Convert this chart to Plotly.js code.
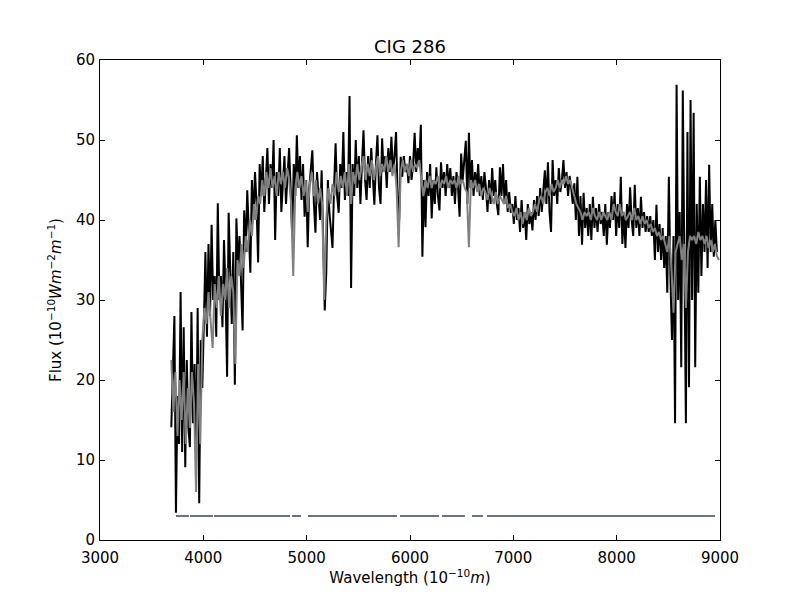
<!DOCTYPE html>
<html>
<head>
<meta charset="utf-8">
<script src="https://cdn.plot.ly/plotly-3.0.1.min.js"></script>
<style>html,body{margin:0;padding:0;background:#fff;}#chart{width:800px;height:600px;}</style>
</head>
<body>
<div id="chart"></div>
<script>
// Observed spectrum (black): first wavelength and sampling step (Angstrom)
const obsStart = 3690;
const obsStep = 15;
const obsFlux = [
 14.1,20,28,3.4,18,12,31,11,26.6,9.1,
 22.5,14,11.6,28.5,14.6,22,10,29,4.6,25,
 19,27,36,25.4,37,28,39.4,30,33,25.4,
 42.1,30,33,26.6,37.5,31,20.4,40.9,32,27,
 36,19.4,40.2,34,38,31,26.2,41.2,36,43.7,
 38,33.4,45,40,46,42,34.7,47,43,48,
 41,46,49,42,47,44,50,37.5,46,43,
 49,41,45,48,42,46,49,44,38,47,
 43,50.6,44,48,42.5,47,40.4,45,36.6,44,
 46,48.7,42,38.4,46,43,40,46.2,38,28.7,
 33.5,45,41,38.4,36.5,44,49.6,43,40.9,47,
 44,51,42.5,46,43,55.5,31.5,47,43,50,
 44,48,42,47,51.2,45,42.5,48,44,49,
 46,41.9,47,50.6,44,42,50.2,46,48,44,
 49,46,50.4,45.9,48,51,43,40,47.9,45.4,
 48,46,47,44.6,48,45,47,50.9,46,49,
 47,51.9,35.4,45,39.1,46,43,47,40.2,45,
 42,46.6,43,41.2,47.2,44,46,43,47,44,
 46.5,43,45.5,42,46,44,40.4,48.3,45,47,
 49.9,42,50.9,44,47.5,43,46,44,47,43,
 45.5,42.5,46,44,41,45,42,46.5,43,45,
 42,40.6,46.6,43,47,42,45,41,43.5,40.9,
 42,39.5,43,40,41.5,38.5,42.5,39,41,37.5,
 42,39.5,41,38.7,42.5,40,43,40.5,44,41,
 43.5,46.2,42,47.2,41,38.5,47.5,43,45,42,
 46.5,43.5,45,47.5,44,46,43,45.5,44,42,
 44.6,40,45.4,38,43,36.9,43.4,39,41.5,38,
 42,37.5,42.9,39,41.5,38.5,42,39.5,41,38,
 42,36.9,41,39,43,40,43.5,38,42,39,
 45.4,37,41,36.5,42,39,44.1,40,38,44.4,
 39,41.5,38,42.9,39,41,38.5,40.5,38.5,40.5,
 38,40,35,41.9,36,39.5,35,39,34,38,
 30.9,45.4,33,25,38,14.6,56.9,30,41,21.6,
 56.2,33,14.6,51,19.1,55,30,53.4,21.6,42,
 30.9,45.4,33,42,36,45,34,46.9,36,42,
 35.4,40,36
];

// Model spectrum (gray)
const modelStart = 3690;
const modelStep = 20;
const modelFlux = [
 22.5,16,21,13,20,15,21,12,19,14,
 21,17,6,22,12,25,29,27,31,28,
 24,32,29,33,28,32,30,34,29,33,
 31,22,35,33,37,34,38,36,40,38,
 42,40,43,42,45,43,46,44,46.5,44,
 45.5,43,46,44.5,46,44,46.5,45,42,33,
 44,46,44,45.5,43,45,41,44.5,46,43,
 45,42,44,42,30,40,44,42,44.5,43,
 46,43.5,45.5,44,46,43,47,42,46,44.5,
 47,45,46.5,48,45,47,45.5,47.5,45,46.5,
 48,45.5,47,46,48,46,47.5,45.5,47,44,
 36.6,46,47.5,46,47,45.5,47.5,46,47,46.5,
 47.5,45,43,45,44,45.5,44,45,44.5,45.5,
 44,45,44.5,45.5,44,45,44.5,45,44,45.5,
 44.5,45,44,43.5,36.6,45,44,45,43.5,44.5,
 43,44,43.5,42.5,44,43,42,43.5,42,43,
 42.5,42,43,41.5,42,41,40.5,41.5,40,41,
 39.5,41,40,41.5,40.5,41,42,41,42.5,43,
 42,43.5,44,43,44.5,43.5,44,45,44,45,
 44.5,45.5,44.5,45,44,43,42,41.5,41,40,
 41,40.5,41,40,41.5,40.5,40,41,40,41,
 40.5,40,41,40,42,41,40.5,42,40.5,41,
 40,40.5,41,40,41.5,40,40.5,39.5,40.5,39.5,
 40,39,39.5,38.5,39,38,38.5,37.5,38,37,
 36,38,34,28.4,36,37,38,35,37,29,
 36,38,37.5,38,37,38.5,37.5,38,37,38,
 36.5,37.5,36,37,35.5,35
];

// Mask (good-pixel) segments drawn at a constant level
const maskLevel = 3;
const maskStarts = [3735,3871,4103,4858,5013,5903,6310,6600,6745];
const maskEnds   = [3861,4094,4839,4945,5874,6281,6532,6706,8952];

const xTicks = [3000,4000,5000,6000,7000,8000,9000];
const yTicks = [0,10,20,30,40,50,60];

const maskX = [], maskY = [];
for (let i = 0; i < maskStarts.length; i++) {
  maskX.push(maskStarts[i], maskEnds[i], null);
  maskY.push(maskLevel, maskLevel, null);
}

const traces = [
  {type:'scatter', mode:'lines', x0: obsStart, dx: obsStep, y: obsFlux,
   line:{color:'#000000', width:2}, hoverinfo:'skip'},
  {type:'scatter', mode:'lines', x0: modelStart, dx: modelStep, y: modelFlux,
   line:{color:'#808080', width:2}, hoverinfo:'skip'},
  {type:'scatter', mode:'lines', x: maskX, y: maskY, connectgaps:false,
   line:{color:'#66767e', width:2}, hoverinfo:'skip'}
];

const axisCommon = {
  showgrid:false, zeroline:false, showline:true, linecolor:'#000', linewidth:1,
  mirror:'allticks', ticks:'inside', ticklen:5, tickwidth:1, tickcolor:'#000',
  tickfont:{family:'DejaVu Sans', size:15, color:'#000'}
};

const layout = {
  width:800, height:600,
  paper_bgcolor:'#fff', plot_bgcolor:'#fff',
  margin:{l:100, r:80, t:60, b:60, pad:0},
  showlegend:false,
  font:{family:'DejaVu Sans', color:'#000'},
  title:{text:'CIG 286', font:{family:'DejaVu Sans', size:18, color:'#000'},
         x:0.5, xref:'paper', xanchor:'center', y:0.922, yref:'container', yanchor:'middle'},
  xaxis:Object.assign({}, axisCommon, {
    range:[3000,9000], tickvals:xTicks, ticktext:xTicks.map(String),
    ticklabelstandoff:4,
    title:{text:'Wavelength (10<sup>−10</sup><i>m</i>)', font:{family:'DejaVu Sans', size:15, color:'#000'}, standoff:0}
  }),
  yaxis:Object.assign({}, axisCommon, {
    range:[0,60], tickvals:yTicks, ticktext:yTicks.map(String),
    ticklabelstandoff:1,
    title:{text:'Flux (10<sup>−10</sup><i>Wm</i><sup>−2</sup><i>m</i><sup>−1</sup>)', font:{family:'DejaVu Sans', size:15, color:'#000'}, standoff:10}
  })
};

Plotly.newPlot('chart', traces, layout, {staticPlot:true, displayModeBar:false});
</script>
</body>
</html>
